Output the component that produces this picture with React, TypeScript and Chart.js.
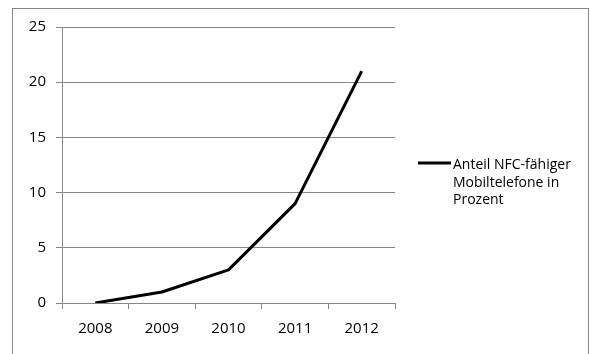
import React, { useEffect, useRef } from "react";
import { Chart, registerables } from "chart.js";

Chart.register(...registerables);

const years = ["2008", "2009", "2010", "2011", "2012"];
const nfcShare = [0, 1, 3, 9, 21];
const legendLines = ["Anteil NFC-fähiger", "Mobiltelefone in", "Prozent"];
const yMin = 0;
const yMax = 25;
const yStep = 5;

const FONT = "'Open Sans', Lato, sans-serif";
const GRID = "#868686";

export default function App() {
  const ref = useRef<HTMLCanvasElement>(null);

  useEffect(() => {
    if (!ref.current) return;

    const framePlugin = {
      id: "frame",
      beforeDraw(chart: any) {
        const ctx = chart.ctx;
        ctx.save();
        ctx.fillStyle = "#ffffff";
        ctx.fillRect(0, 0, chart.width, chart.height);
        ctx.strokeStyle = GRID;
        ctx.lineWidth = 1;
        ctx.strokeRect(12.5, 8.5, 576, 400);
        ctx.restore();
      },
    };

    const legendPlugin = {
      id: "sideLegend",
      afterDraw(chart: any) {
        const ctx = chart.ctx;
        const area = chart.chartArea;
        const x0 = area.right + 23;
        const yLine = area.top + 136;
        ctx.save();
        ctx.strokeStyle = "#000000";
        ctx.lineWidth = 3;
        ctx.beginPath();
        ctx.moveTo(x0, yLine);
        ctx.lineTo(x0 + 33, yLine);
        ctx.stroke();
        ctx.fillStyle = "#000000";
        ctx.font = `14px ${FONT}`;
        ctx.textBaseline = "alphabetic";
        ctx.textAlign = "left";
        legendLines.forEach((t, i) => {
          ctx.fillText(t, x0 + 35, yLine + 6 + i * 17.7);
        });
        ctx.restore();
      },
    };

    const chart = new Chart(ref.current, {
      type: "line",
      data: {
        labels: years,
        datasets: [
          {
            label: legendLines.join(" "),
            data: nfcShare,
            borderColor: "#000000",
            borderWidth: 3,
            borderJoinStyle: "round",
            pointRadius: 0,
            tension: 0,
            fill: false,
          },
        ],
      },
      options: {
        responsive: false,
        animation: false,
        devicePixelRatio: 1,
        layout: { padding: { left: 12, top: 27, right: 195, bottom: 0 } },
        plugins: {
          legend: { display: false },
          tooltip: { enabled: false },
        },
        scales: {
          x: {
            offset: true,
            grid: {
              offset: true,
              drawOnChartArea: false,
              drawTicks: true,
              tickLength: 6,
              color: GRID,
            },
            border: { color: GRID },
            ticks: {
              color: "#000000",
              font: { family: FONT, size: 15 },
              padding: 11,
              maxRotation: 0,
            },
            afterFit(scale: any) {
              scale.height = 51;
            },
          },
          y: {
            min: yMin,
            max: yMax,
            grid: {
              color: GRID,
              drawTicks: true,
              tickLength: 6,
            },
            border: { color: GRID },
            ticks: {
              stepSize: yStep,
              color: "#000000",
              font: { family: FONT, size: 15 },
              padding: 10,
            },
            afterFit(scale: any) {
              scale.width = 50;
            },
          },
        },
      },
      plugins: [framePlugin, legendPlugin],
    });

    return () => chart.destroy();
  }, []);

  return (
    <div style={{ position: "fixed", left: 0, top: 0, width: 590, height: 354, background: "#fff" }}>
      <canvas ref={ref} width={590} height={354} style={{ display: "block" }} />
    </div>
  );
}
